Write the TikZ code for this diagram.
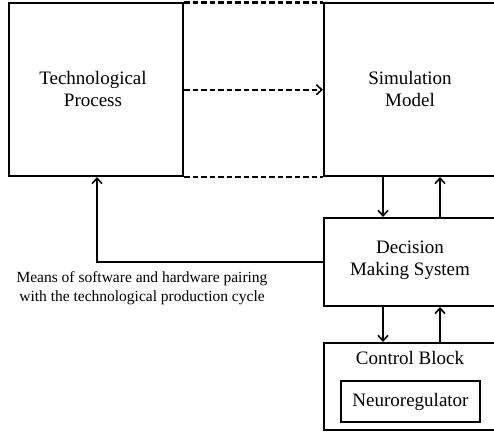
\documentclass[tikz,border=0pt]{standalone}
\usepackage{fontspec}
\setmainfont{Liberation Serif}
\usetikzlibrary{arrows.meta}
\begin{document}
\begin{tikzpicture}[x=1pt,y=-1pt,
  box/.style={draw,line width=2pt,rectangle,inner sep=0pt,anchor=north west},
  txt/.style={align=center,font=\fontsize{19}{22}\selectfont,inner sep=0pt},
  tip/.style={-{Straight Barb[length=5.5pt,width=10pt,line width=1.6pt]}},
  arr/.style={line width=1.6pt,tip},
  dsh/.style={line width=1.8pt,dash pattern=on 5.5pt off 3pt},
  dshw/.style={line width=2.4pt,dash pattern=on 5.5pt off 3pt},
  lbl/.style={align=center,font=\fontsize{15.5}{19}\selectfont,inner sep=0pt}]
\clip (0,0) rectangle (494,433);
\fill[white] (0,0) rectangle (494,433);
\node[box,minimum width=174pt,minimum height=172.5pt] (tech) at (8,2.5) {};
\node[box,minimum width=174pt,minimum height=172.5pt] (sim) at (323,2.5) {};
\node[box,minimum width=174pt,minimum height=88pt] (dms) at (323,217) {};
\node[box,minimum width=174pt,minimum height=87pt] (ctl) at (323,342) {};
\node[box,minimum width=139pt,minimum height=41pt] (neuro) at (340,380) {};
\node[txt] (techt) at (93,89) {Technological\\Process};
\node[txt] (simt) at (410,89) {Simulation\\Model};
\node[txt] (dmst) at (410,260) {Decision\\Making System};
\node[txt] (ctlt) at (410,358) {Control Block};
\node[txt] (neurot) at (neuro.center) {Neuroregulator};
\node[lbl] (means) at (142,288) {Means of software and hardware pairing\\with the technological production cycle};
% dashed links
\draw[dshw] (tech.north east) -- (sim.north west);
\draw[dshw] (tech.south east) -- (sim.south west);
\draw[dsh,tip] (tech.east) -- (sim.west);
% vertical arrows
\coordinate (xa) at (383,0);
\coordinate (xb) at (440,0);
\coordinate (xf) at (97,0);
\draw[arr] (sim.south -| xa) -- (dms.north -| xa);
\draw[arr] (dms.north -| xb) -- (sim.south -| xb);
\draw[arr] (dms.south -| xa) -- (ctl.north -| xa);
\draw[arr] (ctl.north -| xb) -- (dms.south -| xb);
\draw[arr] (dms.west) -| (tech.south -| xf);
\end{tikzpicture}
\end{document}
